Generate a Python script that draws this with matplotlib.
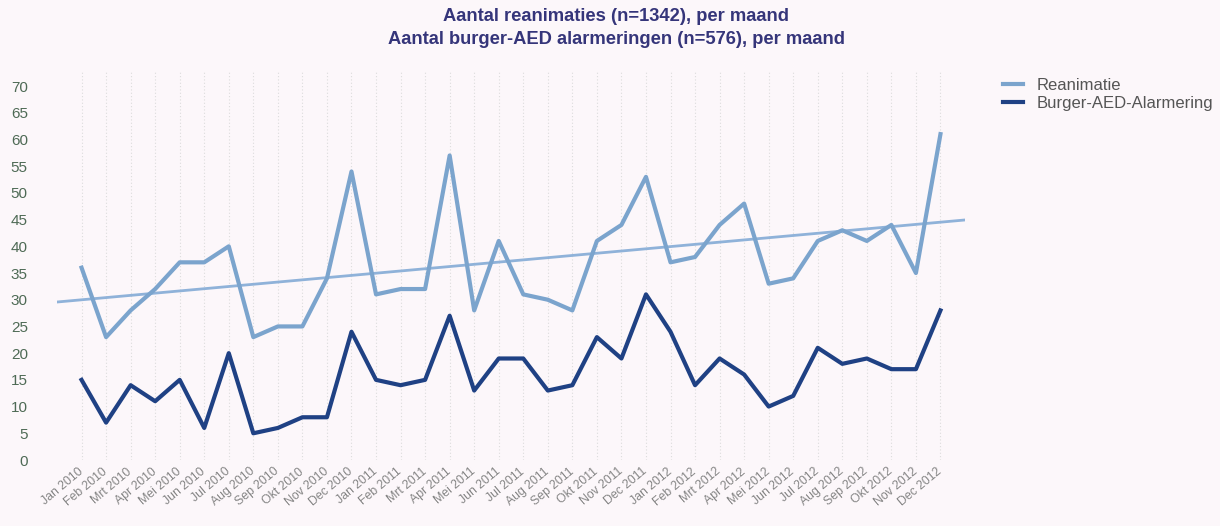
import matplotlib
matplotlib.use("Agg")
import matplotlib.pyplot as plt
import matplotlib.transforms as mtransforms
import numpy as np

# Monthly labels (Dutch month abbreviations as in the source)
months = ["Jan", "Feb", "Mrt", "Apr", "Mei", "Jun", "Jul", "Aug", "Sep", "Okt", "Nov", "Dec"]
years = [2010, 2011, 2012]
labels = [f"{m} {y}" for y in years for m in months]

reanimatie = [36, 23, 28, 32, 37, 37, 40, 23, 25, 25, 34, 54,
              31, 32, 32, 57, 28, 41, 31, 30, 28, 41, 44, 53,
              37, 38, 44, 48, 33, 34, 41, 43, 41, 44, 35, 61]
alarmering = [15, 7, 14, 11, 15, 6, 20, 5, 6, 8, 8, 24,
              15, 14, 15, 27, 13, 19, 19, 13, 14, 23, 19, 31,
              24, 14, 19, 16, 10, 12, 21, 18, 19, 17, 17, 28]

title = ("Aantal reanimaties (n=1342), per maand\n"
         "Aantal burger-AED alarmeringen (n=576), per maand")

bg = "#fcf7fa"
c_rean = "#7ba4cd"
c_trend = "#8fb2d9"
c_alarm = "#1f4184"

plt.rcParams["font.family"] = ["Liberation Sans", "DejaVu Sans"]

fig = plt.figure(figsize=(12.2, 5.26), dpi=100)
fig.patch.set_facecolor(bg)
ax = fig.add_axes([57 / 1220, 66 / 526, (965 - 57) / 1220, (456 - 66) / 526])
ax.set_facecolor(bg)

x = np.arange(len(labels))

# Linear trend over the Reanimatie series, extended one month on each side
coef = np.polyfit(x, reanimatie, 1)
xt = np.array([-1, len(labels)])
ax.plot(xt, np.polyval(coef, xt), color=c_trend, linewidth=2.0, zorder=2)

ax.plot(x, reanimatie, color=c_rean, linewidth=3.0, label="Reanimatie", zorder=3)
ax.plot(x, alarmering, color=c_alarm, linewidth=3.0, label="Burger-AED-Alarmering", zorder=4)

ax.set_xlim(-1, len(labels))
ax.set_ylim(0, 73)
ax.set_yticks(np.arange(0, 71, 5))
ax.set_xticks(x)
ax.set_xticklabels(labels, rotation=40, ha="right", rotation_mode="anchor",
                   fontsize=8.8, color="#858585")
ax.tick_params(axis="y", length=0, pad=21, labelsize=11, labelcolor="#4e6a55")
ax.tick_params(axis="x", length=0, pad=4)
shift = mtransforms.ScaledTranslation(-4 / 100, 0, fig.dpi_scale_trans)
for lbl in ax.get_xticklabels():
    lbl.set_transform(lbl.get_transform() + shift)

ax.grid(axis="x", color="#dcdcdc", linestyle=(0, (1, 2)), linewidth=0.8)
ax.set_axisbelow(True)
for spine in ax.spines.values():
    spine.set_visible(False)

fig.text(0.505, 0.984, title, ha="center", va="top", fontsize=13.2,
         fontweight="bold", color="#35357a", linespacing=1.4)

leg = fig.legend(loc="upper left", bbox_to_anchor=(988 / 1220, 1 - 63 / 526),
                 frameon=False, fontsize=12, handlelength=1.2, labelspacing=0.2,
                 handletextpad=0.8)
for t in leg.get_texts():
    t.set_color("#555555")

fig.savefig("out.png", dpi=100, facecolor=fig.get_facecolor())
